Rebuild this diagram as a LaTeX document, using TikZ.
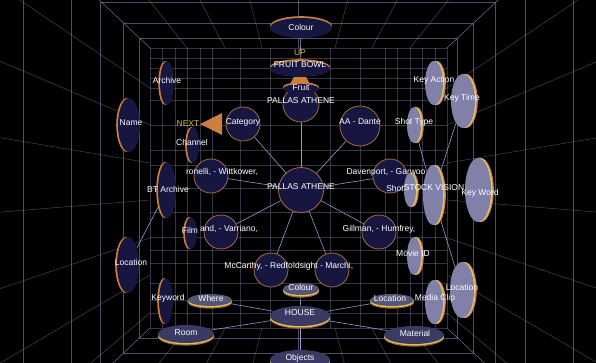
\documentclass[tikz,border=0pt]{standalone}
\usepackage{fontspec}
\setsansfont{Liberation Sans}
\usetikzlibrary{shapes.geometric}

\definecolor{navy}{RGB}{22,22,64}
\definecolor{rimorange}{RGB}{205,125,60}
\definecolor{rimbrown}{RGB}{165,105,70}
\definecolor{rimyellow}{RGB}{220,195,95}
\definecolor{lilac}{RGB}{128,128,168}
\definecolor{gridc}{RGB}{130,130,175}
\definecolor{linkc}{RGB}{150,150,205}
\definecolor{hintc}{RGB}{225,180,40}
\definecolor{housec}{RGB}{58,58,100}
\definecolor{slatec}{RGB}{85,85,118}

\pgfdeclarelayer{bg}
\pgfdeclarelayer{edges}
\pgfsetlayers{bg,edges,main}

\tikzset{
  griline/.style={draw=gridc, line width=0.4pt, draw opacity=0.6},
  walline/.style={draw=gridc, line width=0.35pt, draw opacity=0.4},
  link/.style={draw=linkc, line width=0.6pt},
  ball/.style={circle, fill=navy, draw=rimbrown, line width=0.8pt, inner sep=0pt},
  leftdisc/.style 2 args={ellipse, inner sep=0pt, minimum width=2*#1, minimum height=2*#2, fill=navy,
    preaction={fill=rimorange, transform canvas={xshift=-1.8pt}}},
  rightdisc/.style 2 args={ellipse, inner sep=0pt, minimum width=2*#1, minimum height=2*#2, fill=lilac,
    preaction={fill=rimorange, transform canvas={xshift=2.8pt}},
    preaction={fill=rimyellow, transform canvas={xshift=1.6pt}}},
  topdisc/.style 2 args={ellipse, inner sep=0pt, minimum width=2*#1, minimum height=2*#2, fill=navy,
    preaction={fill=rimorange, transform canvas={yshift=1.8pt}}},
  floordisc/.style n args={3}{ellipse, inner sep=0pt, minimum width=2*#1, minimum height=2*#2, fill=#3,
    preaction={fill=rimorange!80!black, transform canvas={yshift=-2.6pt}},
    preaction={fill=rimyellow, transform canvas={yshift=-1.4pt}}},
  txt/.style={text=white, font=\sffamily\fontsize{8.5}{9}\selectfont, inner sep=0pt},
  hint/.style={txt, text=hintc}
}

\begin{document}
\begin{tikzpicture}[x=1pt, y=-1pt]
% 背景与透视网格
\begin{pgfonlayer}{bg}
  \fill[black] (0,0) rectangle (596,363);
  \foreach \x in {150,162,175,187,200,212,240,270,330,360,385,397,410,422,435,447}
    \draw[walline] (\x,48) -- (\x,328);
  \foreach \y in {48,58,68,78,88,100,125,150,165,188,212,237,250,263,283,300,313,328}
    \draw[walline] (150,\y) -- (447,\y);
  \foreach \s in {1.07,1.18,1.33,1.53,1.85,2.4}
    \draw[griline] ({298-148.5*\s},{188-140*\s}) rectangle ({298+148.5*\s},{188+140*\s});
  \foreach \x in {150,187,225,262,298,335,372,410,447} {
    \draw[griline] (\x,48) -- ({298+4*(\x-298)},-372);
    \draw[griline] (\x,328) -- ({298+4*(\x-298)},748);
  }
  \foreach \y in {48,88,125,163,200,238,275,313,328} {
    \draw[griline] (150,\y) -- (-294,{188+4*(\y-188)});
    \draw[griline] (447,\y) -- (894,{188+4*(\y-188)});
  }
\end{pgfonlayer}

% 箭头 UP / NEXT
\fill[rimorange] (300,66) -- (311,86) -- (289,86) -- cycle;
\fill[rimorange] (200,124) -- (222,113) -- (222,135) -- cycle;

% 中心：PALLAS ATHENE
\node[ball, minimum size=45pt] (pallas) at (301,190) {};
\node[ball, minimum size=36pt] (pallasup) at (301,104) {};
\node[ball, minimum size=34pt] (category) at (243,124) {};
\node[ball, minimum size=40pt] (dante) at (360,126) {};
\node[ball, minimum size=34pt] (wittkower) at (211,176) {};
\node[ball, minimum size=34pt] (garwood) at (390,176) {};
\node[ball, minimum size=34pt] (varriano) at (221,232) {};
\node[ball, minimum size=34pt] (humfrey) at (379,232) {};
\node[ball, minimum size=34pt] (mccarthy) at (271,270) {};
\node[ball, minimum size=34pt] (marchi) at (332,270) {};

% 上方：FRUIT BOWL
\node[topdisc={31}{10}] (colourtop) at (301,28) {};
\node[topdisc={30}{8}] (fruitbowl) at (300,69) {};
\node[topdisc={18}{5}] (fruit) at (301,89) {};

% 左侧：BT Archive
\node[leftdisc={7}{22}] (archive) at (167,83) {};
\node[leftdisc={11}{27}] (name) at (129,125) {};
\node[leftdisc={6}{18}] (channel) at (193,145) {};
\node[leftdisc={9}{28}] (btarchive) at (167,190) {};
\node[leftdisc={6}{16}] (film) at (191,233) {};
\node[leftdisc={11}{28}] (locleft) at (128,265) {};
\node[leftdisc={7}{23}] (keyword) at (166,301) {};

% 右侧：STOCK VISION
\node[rightdisc={9}{22}] (keyaction) at (434,83) {};
\node[rightdisc={12}{27}] (keytime) at (463,101) {};
\node[rightdisc={7}{18}] (shottype) at (414,125) {};
\node[rightdisc={6}{17}] (shotlow) at (410,190) {};
\node[rightdisc={10}{30}] (stockvision) at (433,195) {};
\node[rightdisc={13}{32}] (keyword2) at (478,190) {};
\node[rightdisc={7}{19}] (movieid) at (414,256) {};
\node[rightdisc={12}{28}] (locright) at (462,290) {};
\node[rightdisc={9}{22}] (mediaclip) at (434,302) {};

% 下方：HOUSE
\node[floordisc={18}{6}{slatec}] (colourbot) at (301,289) {};
\node[floordisc={22}{6}{slatec}] (where) at (210,300) {};
\node[floordisc={22}{6}{slatec}] (locbot) at (392,300) {};
\node[floordisc={30}{10}{housec}] (house) at (300,316) {};
\node[floordisc={28}{9}{housec}] (room) at (186,334) {};
\node[floordisc={30}{9}{housec}] (material) at (414,335) {};
\node[floordisc={30}{10}{housec}] (objects) at (300,360) {};

% 连线
\begin{pgfonlayer}{edges}
  \draw[link] (pallas) -- (category);
  \draw[link] (pallas) -- (dante);
  \draw[link] (pallas) -- (wittkower);
  \draw[link] (pallas) -- (garwood);
  \draw[link] (pallas) -- (varriano);
  \draw[link] (pallas) -- (humfrey);
  \draw[link] (pallas) -- (mccarthy);
  \draw[link] (pallas) -- (marchi);
  \draw[link] (pallas) -- (pallasup);
  \draw[link] (pallasup) -- (fruit);
  \draw[link] (fruit) -- (fruitbowl);
  \draw[link] (fruitbowl) -- (colourtop);
  \draw[link] (house) -- (where);
  \draw[link] (house) -- (locbot);
  \draw[link] (house) -- (room);
  \draw[link] (house) -- (material);
  \draw[link] (house) -- (objects);
  \draw[link] (house) -- (colourbot);
  \draw[link] (stockvision) -- (shottype);
  \draw[link] (stockvision) -- (keytime);
  \draw[link] (stockvision) -- (locright);
  \draw[link] (btarchive) -- (locleft);
\end{pgfonlayer}

% 文字
\node[txt] (t-colourtop) at (301,27) {Colour};
\node[hint] (t-up) at (300,53) {UP};
\node[txt] (t-fruitbowl) at (300,65) {FRUIT BOWL};
\node[txt] (t-fruit) at (301,87) {Fruit};
\node[txt] (t-pallasup) at (301,101) {PALLAS ATHENE};
\node[txt] (t-archive) at (167,80) {Archive};
\node[txt] (t-name) at (131,123) {Name};
\node[hint] (t-next) at (188,124) {NEXT};
\node[txt] (t-category) at (243,122) {Category};
\node[txt] (t-dante) at (360,122) {AA - Dante};
\node[txt] (t-keyaction) at (434,80) {Key Action};
\node[txt] (t-keytime) at (462,98) {Key Time};
\node[txt] (t-shottype) at (414,122) {Shot Type};
\node[txt] (t-channel) at (192,142) {Channel};
\node[txt] (t-wittkower) at (222,172) {ronelli, - Wittkower,};
\node[txt] (t-garwood) at (386,172) {Davenport, - Garwoo};
\node[txt] (t-pallas) at (301,187) {PALLAS ATHENE};
\node[txt] (t-btarchive) at (168,189) {BT Archive};
\node[txt] (t-shotlow) at (395,188) {Shot};
\node[txt] (t-stockvision) at (434,188) {STOCK VISION};
\node[txt] (t-keyword2) at (480,193) {Key Word};
\node[txt] (t-film) at (190,230) {Film};
\node[txt] (t-varriano) at (229,229) {and, - Varriano,};
\node[txt] (t-humfrey) at (379,229) {Gillman, - Humfrey,};
\node[txt] (t-movieid) at (413,253) {Movie ID};
\node[txt] (t-locleft) at (131,262) {Location};
\node[txt] (t-mccarthy) at (293,266) [anchor=east] {McCarthy, - Redfo};
\node[txt] (t-marchi) at (293,266) [anchor=west] {ldsight - Marchi,};
\node[txt] (t-locright) at (462,287) {Location};
\node[txt] (t-colourbot) at (301,287) {Colour};
\node[txt] (t-keyword) at (168,298) {Keyword};
\node[txt] (t-where) at (211,298) {Where};
\node[txt] (t-locbot) at (390,298) {Location};
\node[txt] (t-mediaclip) at (435,298) {Media Clip};
\node[txt] (t-house) at (300,313) {HOUSE};
\node[txt] (t-room) at (186,333) {Room};
\node[txt] (t-material) at (415,333) {Material};
\node[txt] (t-objects) at (300,358) {Objects};

\pgfresetboundingbox
\useasboundingbox (0,0) rectangle (596,363);
\end{tikzpicture}
\end{document}
